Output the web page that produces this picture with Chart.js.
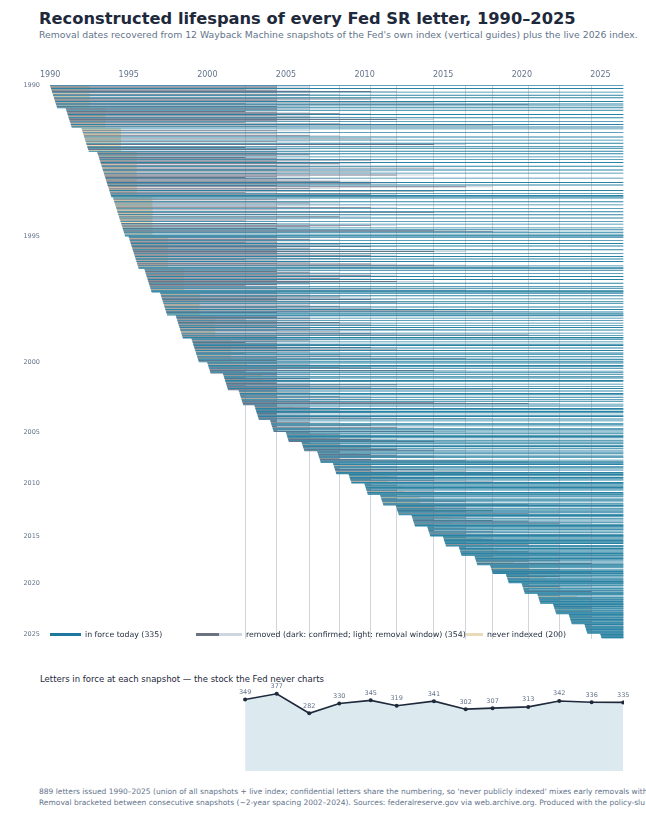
<!DOCTYPE html>
<html>
<head>
<meta charset="utf-8">
<script src="https://cdn.jsdelivr.net/npm/chart.js@4.4.1/dist/chart.umd.min.js"></script>
<style>
  html, body { margin: 0; padding: 0; background: #fff; }
  body { width: 646px; height: 834px; position: relative; overflow: hidden; font-family: "DejaVu Sans", sans-serif; }
  .abs { position: absolute; white-space: nowrap; }
  #title { left: 39px; top: 9px; font-size: 16.3px; line-height: 20px; font-weight: bold; color: #1e293b; }
  #subtitle { left: 39px; top: 28px; font-size: 9.3px; line-height: 13px; color: #64748b; }
  #main { position: absolute; left: 0; top: 58px; }
  #legend { left: 50px; top: 630px; font-size: 7.8px; line-height: 10px; color: #1e293b; }
  #legend span.sw { display: inline-block; height: 3px; vertical-align: middle; margin-right: 4px; }
  #legend span.it { position: absolute; top: 0; }
  #subhead { left: 40px; top: 674px; font-size: 8.5px; line-height: 10px; color: #1e293b; }
  #stock { position: absolute; left: 0; top: 680px; }
  #foot { left: 39px; top: 786px; font-size: 7.5px; line-height: 11px; color: #64748b; }
</style>
</head>
<body>
<div id="title" class="abs">Reconstructed lifespans of every Fed SR letter, 1990–2025</div>
<div id="subtitle" class="abs">Removal dates recovered from 12 Wayback Machine snapshots of the Fed's own index (vertical guides) plus the live 2026 index.</div>
<canvas id="main" width="646" height="592"></canvas>
<div id="legend" class="abs">
  <span class="it" style="left:0"><span class="sw" style="width:31px;background:#1f77a0"></span>in force today (335)</span>
  <span class="it" style="left:146px"><span class="sw" style="width:23px;background:#6b7280;margin-right:0"></span><span class="sw" style="width:23px;background:#cfd6df"></span>removed (dark: confirmed; light: removal window) (354)</span>
  <span class="it" style="left:416px"><span class="sw" style="width:17px;background:#eadbb8"></span>never indexed (200)</span>
</div>
<div id="subhead" class="abs">Letters in force at each snapshot — the stock the Fed never charts</div>
<canvas id="stock" width="646" height="95"></canvas>
<div id="foot" class="abs">889 letters issued 1990–2025 (union of all snapshots + live index; confidential letters share the numbering, so 'never publicly indexed' mixes early removals with<br>Removal bracketed between consecutive snapshots (~2-year spacing 2002–2024). Sources: federalreserve.gov via web.archive.org. Produced with the policy-slu</div>

<script>
// issue years, one status string per year, one character per letter (in SR number order)
// F = in force today, N = never indexed, 0-9/a/b = removed, last seen in that snapshot
const YEARS = [1990, 1991, 1992, 1993, 1994, 1995, 1996, 1997, 1998, 1999,
               2000, 2001, 2002, 2003, 2004, 2005, 2006, 2007, 2008, 2009,
               2010, 2011, 2012, 2013, 2014, 2015, 2016, 2017, 2018, 2019,
               2020, 2021, 2022, 2023, 2024, 2025];
const STATUS = [
  "F1N1NF0N1N4F1NN2F1NNF14N1NF6N0F9NF1NF",
  "1N1FN0N13NF1NN2F1N5N1FN0N3F8N1FN",
  "NFNN1NNFN1NN2NFNN4NFN1NNFN6NNFN0FN1NNF",
  "1N1F2N1NF0N1F4N1NF13NN1F2N6N1F1N4NF1N5N1N0F2N1N3NF14NF1N7NN2N1F6N0NF4NF5F",
  "NFN1NN1FN2NNFN1N4NFN1NNF6NN1FNN3NFN1NN0FNN1FN4N2NF1NF6N8F1NFNFF",
  "1F1N12F1N01F3N1F4N1N2F1N6N1F1N4NF1N3F0N1F2N14N6FN9FF",
  "N1FN1N2FN14NF1N3NF1N5N2FN1N0FN1F4N7FFF",
  "1F1N2F13N1F4N1F5NF1N2N3F1N4F6N8F1NFNF",
  "F1N1F2N0F1N3F1N4F1NF2N6F1N3NF4N9F1NFF",
  "1F2N1F0N1F3F1N4F1N5F2N1F0F3N4F1N7FF1NF",
  "1F1N2F1F34F1N6F0F1",
  "1F1N1F0F2N1F4F1N1F502F14F81",
  "1F1N2F1F103F1N4F12F619F1",
  "1F1N2F1F13F4F1N1F2F417F1",
  "1F1N2F1F4F1N5F2F1F6",
  "F2FN3F4F2F3N4F56",
  "F2F3NF4F24FN5F6",
  "3F3FN4F5F6F3N4F7F9F",
  "F3F4NF5F3F6F4N7F8F",
  "F4FN5F6F4F6N8FF",
  "F4F5FNF6F4F5N6F7FF",
  "F5F6NF5F6F7FN6F9F",
  "F6FN7F6F8F7FN9FF",
  "F6F7NF6F8F9FNaF6FF",
  "F6F7FF6F8FN7FbFF",
  "F7FNF8F9FF7FN9FF",
  "F7FF8FNF9F9FaFF",
  "F8FNF9FaF9NFbFF",
  "F9FF9NFaF9FbFF",
  "F9FFaFNF9FFbFFF",
  "FF9FFaFNFF9FFbFFF",
  "FFaFNFFbFFFaFNFF",
  "FFFaFFbFFNFFbFFFF",
  "FFFbFFFNFFFbFFFF",
  "FFbFFFFFFbFFFFF",
  "FFFFFFFF"
];

// Wayback snapshot dates of the Fed's index, and the live index
const SNAPSHOTS = [2002.40, 2004.41, 2006.48, 2008.39, 2010.39, 2012.04,
                   2014.41, 2016.43, 2018.14, 2020.41, 2022.38, 2024.44];
const LIVE = 2026.45;
const IN_FORCE = [349, 377, 282, 330, 345, 319, 341, 302, 307, 313, 342, 336, 335];

const X_TICKS = [1990, 1995, 2000, 2005, 2010, 2015, 2020, 2025];
const Y_LABEL_YEARS = [1990, 1995, 2000, 2005, 2010, 2015, 2020, 2025];

// drawing conventions
const X_MIN = 1989.8, X_MAX = 2026.5;
const LETTERS_PER_YEAR_WIDTH = 80;   // letter n of a year sits n/80 of a year in
const NEVER_SPAN = 2.5;              // never-indexed bars run to mid-year +2
const FONT = "DejaVu Sans";
const C_FORCE = "#2a83a3", C_DARK = "#6c7487", C_LIGHT = "#cbd2dc", C_NEVER = "#e9d8b0";

const inForce = [], removedDark = [], removedLight = [], never = [];
const firstIndex = {};
let idx = 0;
YEARS.forEach((yr, i) => {
  firstIndex[yr] = idx;
  [...STATUS[i]].forEach((c, n) => {
    const start = yr + n / LETTERS_PER_YEAR_WIDTH;
    if (c === "F") {
      inForce.push({ x: [start, LIVE], y: idx });
    } else if (c === "N") {
      never.push({ x: [start, yr + NEVER_SPAN], y: idx });
    } else {
      const k = parseInt(c, 16);
      const next = k + 1 < SNAPSHOTS.length ? SNAPSHOTS[k + 1] : LIVE;
      removedDark.push({ x: [start, SNAPSHOTS[k]], y: idx });
      removedLight.push({ x: [SNAPSHOTS[k], next], y: idx });
    }
    idx++;
  });
});
const total = idx;
const yearAtIndex = {};
Y_LABEL_YEARS.forEach(yr => { yearAtIndex[firstIndex[yr]] = String(yr); });

new Chart(document.getElementById("main"), {
  type: "bar",
  data: {
    datasets: [
      { label: "in force", data: inForce, backgroundColor: C_FORCE },
      { label: "removed", data: removedDark, backgroundColor: C_DARK },
      { label: "removal window", data: removedLight, backgroundColor: C_LIGHT },
      { label: "never indexed", data: never, backgroundColor: C_NEVER }
    ]
  },
  options: {
    indexAxis: "y",
    animation: false,
    responsive: false,
    layout: { padding: { left: 0, right: 22, top: 0, bottom: 11.5 } },
    datasets: { bar: { grouped: false, barPercentage: 1, categoryPercentage: 1, borderWidth: 0, inflateAmount: 0.14 } },
    scales: {
      x: {
        type: "linear", position: "top", min: X_MIN, max: X_MAX,
        grid: { display: false, drawTicks: false }, border: { display: false },
        afterBuildTicks: s => { s.ticks = X_TICKS.map(v => ({ value: v })); },
        afterFit: s => { s.height = 27; },
        ticks: { font: { family: FONT, size: 8 }, color: "#64748b", padding: 5, callback: v => String(v) }
      },
      snap: {
        type: "linear", axis: "x", position: "bottom", min: X_MIN, max: X_MAX,
        ticks: { display: false },
        grid: { color: "rgba(100,116,139,0.3)", z: 1, drawTicks: false },
        border: { display: false },
        afterBuildTicks: s => { s.ticks = SNAPSHOTS.map(v => ({ value: v })); },
        afterFit: s => { s.height = 0; }
      },
      y: {
        type: "linear", reverse: true, offset: false, min: -0.5, max: total - 0.5,
        grid: { display: false, drawTicks: false }, border: { display: false },
        afterBuildTicks: s => { s.ticks = Y_LABEL_YEARS.map(yr => ({ value: firstIndex[yr] })); },
        afterFit: s => { s.width = 47; },
        ticks: { autoSkip: false, font: { family: FONT, size: 6.5 }, color: "#64748b", padding: 7,
                 callback: v => yearAtIndex[v] || "" }
      }
    },
    plugins: { legend: { display: false }, tooltip: { enabled: false } }
  }
});

// value labels above the points of the stock line
const pointLabels = {
  id: "pointLabels",
  afterDatasetsDraw(chart) {
    const ctx = chart.ctx;
    const meta = chart.getDatasetMeta(0);
    ctx.save();
    ctx.font = "6.5px " + FONT;
    ctx.fillStyle = "#64748b";
    ctx.textAlign = "center";
    ctx.textBaseline = "bottom";
    meta.data.forEach((pt, i) => {
      ctx.fillText(String(chart.data.datasets[0].data[i].y), pt.x, pt.y - 4);
    });
    ctx.restore();
  }
};

const stockDates = SNAPSHOTS.concat([LIVE]);
new Chart(document.getElementById("stock"), {
  type: "line",
  data: {
    datasets: [{
      data: stockDates.map((d, i) => ({ x: d, y: IN_FORCE[i] })),
      borderColor: "#1e293b", borderWidth: 1.6, tension: 0,
      pointRadius: 2, pointBackgroundColor: "#1e293b", pointBorderWidth: 0,
      fill: "origin", backgroundColor: "#dce9ef"
    }]
  },
  options: {
    animation: false,
    responsive: false,
    layout: { padding: { left: 47, right: 22, top: 5, bottom: 4 } },
    scales: {
      x: { type: "linear", min: X_MIN, max: X_MAX, display: false },
      y: { min: 0, max: 420, display: false }
    },
    plugins: { legend: { display: false }, tooltip: { enabled: false } }
  },
  plugins: [pointLabels]
});
</script>
</body>
</html>
